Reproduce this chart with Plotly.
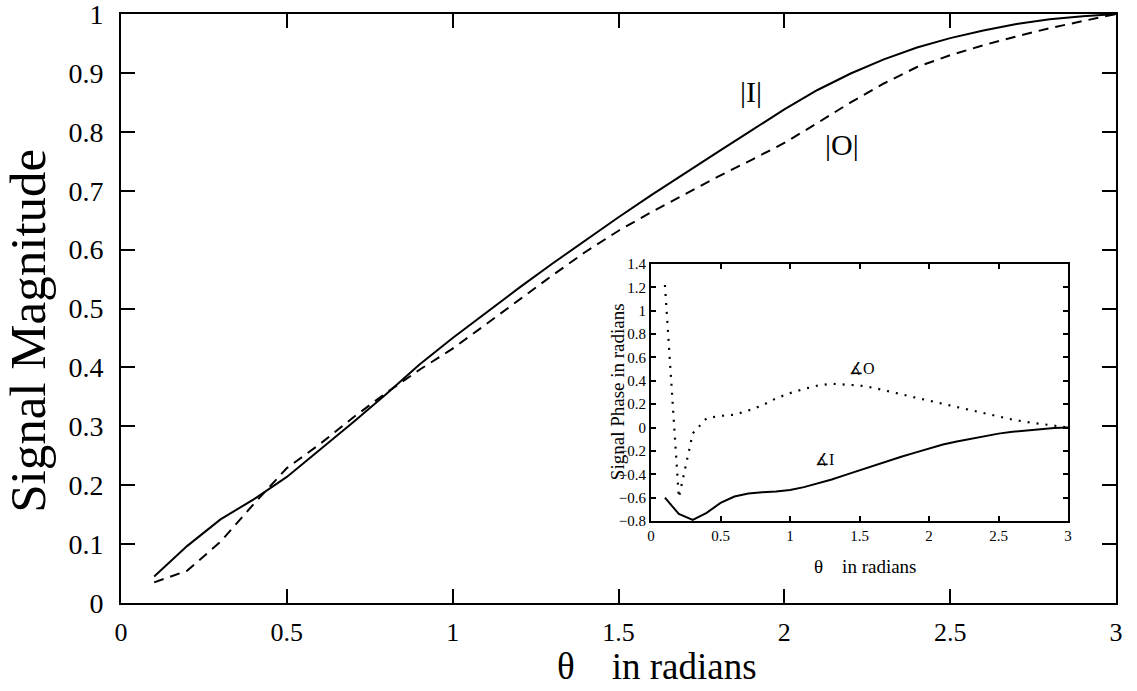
import plotly.graph_objects as go

# ---- data ----
theta = [0.1, 0.2, 0.3, 0.4, 0.5, 0.6, 0.7, 0.8, 0.9, 1.0,
         1.1, 1.2, 1.3, 1.4, 1.5, 1.6, 1.7, 1.8, 1.9, 2.0,
         2.1, 2.2, 2.3, 2.4, 2.5, 2.6, 2.7, 2.8, 2.9, 3.0]

mag_I = [0.045, 0.097, 0.142, 0.176, 0.214, 0.260, 0.307, 0.355, 0.405, 0.450,
         0.493, 0.535, 0.576, 0.616, 0.655, 0.693, 0.730, 0.766, 0.802, 0.838,
         0.871, 0.899, 0.923, 0.943, 0.959, 0.972, 0.983, 0.991, 0.996, 1.000]

mag_O = [0.035, 0.055, 0.104, 0.168, 0.229, 0.270, 0.315, 0.357, 0.396, 0.432,
         0.473, 0.515, 0.556, 0.596, 0.632, 0.664, 0.694, 0.724, 0.752, 0.781,
         0.815, 0.850, 0.882, 0.910, 0.930, 0.947, 0.962, 0.976, 0.988, 1.000]

phase_I = [-0.600, -0.740, -0.790, -0.730, -0.645, -0.590, -0.565, -0.553, -0.548, -0.535,
           -0.510, -0.480, -0.445, -0.405, -0.365, -0.325, -0.288, -0.250, -0.215, -0.180,
           -0.145, -0.120, -0.097, -0.073, -0.052, -0.037, -0.025, -0.013, -0.005, 0.000]

phase_O = [1.220, -0.600, -0.050, 0.080, 0.100, 0.110, 0.145, 0.190, 0.250, 0.295,
           0.330, 0.360, 0.375, 0.370, 0.360, 0.340, 0.315, 0.285, 0.257, 0.230,
           0.205, 0.175, 0.148, 0.122, 0.092, 0.068, 0.048, 0.032, 0.015, 0.000]

main_xticks = [0, 0.5, 1, 1.5, 2, 2.5, 3]
main_yticks = [0, 0.1, 0.2, 0.3, 0.4, 0.5, 0.6, 0.7, 0.8, 0.9, 1]
inset_yticks = [-0.8, -0.6, -0.4, -0.2, 0, 0.2, 0.4, 0.6, 0.8, 1.0, 1.2, 1.4]

SERIF = "Liberation Serif, Times New Roman, serif"

fig = go.Figure()

fig.add_trace(go.Scatter(x=theta, y=mag_I, mode="lines", name="|I|",
                         line=dict(color="black", width=2), xaxis="x", yaxis="y"))
fig.add_trace(go.Scatter(x=theta, y=mag_O, mode="lines", name="|O|",
                         line=dict(color="black", width=2, dash="10px,7px"), xaxis="x", yaxis="y"))
fig.add_trace(go.Scatter(x=theta, y=phase_I, mode="lines", name="∡I",
                         line=dict(color="black", width=2), xaxis="x2", yaxis="y2"))
fig.add_trace(go.Scatter(x=theta, y=phase_O, mode="lines", name="∡O",
                         line=dict(color="black", width=2.2, dash="2px,7px"), xaxis="x2", yaxis="y2"))

axis_common = dict(showgrid=False, zeroline=False, showline=True, linecolor="black",
                   mirror="ticks", ticks="inside", tickcolor="black", automargin=False,
                   ticklabeloverflow="allow")

fig.update_layout(
    width=1137, height=691,
    margin=dict(l=121, r=21, t=14, b=88, autoexpand=False),
    paper_bgcolor="white", plot_bgcolor="white",
    showlegend=False,
    font=dict(family=SERIF, color="black"),
    xaxis=dict(**axis_common, range=[0, 3], tickvals=main_xticks,
               ticktext=[f"{v:g}" for v in main_xticks],
               ticklen=14, tickwidth=2, linewidth=2,
               tickfont=dict(size=26, family=SERIF), ticklabelstandoff=5),
    yaxis=dict(**axis_common, range=[0, 1], tickvals=main_yticks,
               ticktext=[f"{v:g}" for v in main_yticks],
               ticklen=14, tickwidth=2, linewidth=2,
               tickfont=dict(size=28, family=SERIF), ticklabelstandoff=10),
    xaxis2=dict(**axis_common, domain=[0.5327, 0.9518], anchor="y2", range=[0, 3],
                tickvals=main_xticks, ticktext=[f"{v:g}" for v in main_xticks],
                ticklen=5, tickwidth=1.5, linewidth=2,
                tickfont=dict(size=15, family=SERIF)),
    yaxis2=dict(**axis_common, domain=[0.1392, 0.5756], anchor="x2", range=[-0.8, 1.4],
                tickvals=inset_yticks,
                ticktext=[(f"{v:g}" if v >= 0 else "\u2212" + f"{-v:g}") for v in inset_yticks],
                ticklen=5, tickwidth=1.5, linewidth=2,
                tickfont=dict(size=15, family=SERIF)),
)

annos = [
    dict(text="θ&nbsp;&nbsp;&nbsp;&nbsp;in radians", xref="paper", yref="paper",
         x=0.539, y=-0.108, xanchor="center", yanchor="middle", borderpad=0,
         font=dict(size=37, family=SERIF)),
    dict(text="Signal Magnitude", xref="paper", yref="paper", textangle=-90,
         x=-0.0935, y=0.462, xanchor="center", yanchor="middle",
         font=dict(size=51, family=SERIF)),
    dict(text="θ&nbsp;&nbsp;&nbsp;&nbsp;in radians", xref="paper", yref="paper",
         x=0.7487, y=0.0628, xanchor="center", yanchor="middle",
         font=dict(size=19, family=SERIF)),
    dict(text="Signal Phase in radians", xref="paper", yref="paper", textangle=-90,
         x=0.4985, y=0.358, xanchor="center", yanchor="middle",
         font=dict(size=19, family=SERIF)),
    dict(text="|I|", xref="x", yref="y", x=1.899, y=0.868,
         font=dict(size=30, family=SERIF)),
    dict(text="|O|", xref="x", yref="y", x=2.174, y=0.779,
         font=dict(size=30, family=SERIF)),
    dict(text="∡O", xref="x2", yref="y2", x=1.518, y=0.509,
         font=dict(size=16, family=SERIF)),
    dict(text="∡I", xref="x2", yref="y2", x=1.245, y=-0.271,
         font=dict(size=16, family=SERIF)),
]
for a in annos:
    a.setdefault("showarrow", False)
fig.update_layout(annotations=annos)

fig.write_html("out.html", config={"displayModeBar": False},
               post_script="document.body.style.margin='0';document.body.style.padding='0';")
